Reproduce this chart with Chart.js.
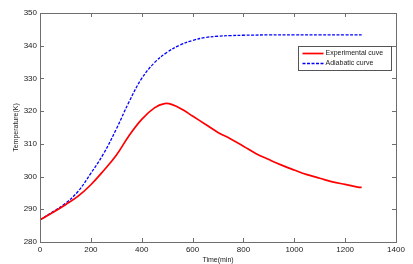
<!DOCTYPE html>
<html>
<head>
<meta charset="utf-8">
<script src="https://cdn.jsdelivr.net/npm/chart.js@4.4.1/dist/chart.umd.min.js"></script>
<style>
  html, body { margin: 0; padding: 0; background: #fff; }
  #wrap { width: 413px; height: 264px; position: relative; }
</style>
</head>
<body>
<div id="wrap"><canvas id="chart_temp"></canvas></div>
<script>
var expTime = [0, 50, 100, 150, 200, 250, 300, 350, 400, 450, 490, 520, 560, 600, 650, 700, 750, 800, 850, 900, 950, 1000, 1050, 1100, 1150, 1200, 1250, 1265];
var expTemp = [286.8, 289.0, 291.4, 294.0, 297.5, 301.8, 306.5, 312.5, 317.5, 321.0, 322.3, 322.0, 320.5, 318.5, 316.0, 313.5, 311.5, 309.3, 307.0, 305.2, 303.5, 302.0, 300.6, 299.5, 298.4, 297.6, 296.8, 296.7];
var adiTime = [0, 50, 100, 150, 200, 250, 300, 350, 400, 450, 500, 550, 600, 650, 700, 750, 800, 900, 1000, 1100, 1200, 1265];
var adiTemp = [286.8, 289.2, 291.8, 295.5, 301.0, 307.0, 314.5, 322.8, 330.0, 334.8, 338.0, 340.2, 341.6, 342.5, 342.9, 343.1, 343.2, 343.3, 343.3, 343.3, 343.3, 343.3];
var xTicks = [0, 200, 400, 600, 800, 1000, 1200, 1400];
var yTicks = [280, 290, 300, 310, 320, 330, 340, 350];

function toPoints(xs, ys) {
  return xs.map(function (x, i) { return { x: x, y: ys[i] }; });
}

var axisColor = '#6e6e6e';
var font = { family: "'Liberation Sans', Arial, sans-serif", size: 8 };
var noGrid = { display: true, drawOnChartArea: false, drawTicks: false, color: 'rgba(0,0,0,0)' };

var chart_temp = new Chart(document.getElementById('chart_temp'), {
    type: 'line',
    data: {
        datasets: [
            {
                label: 'Experimental cuve',
                data: toPoints(expTime, expTemp),
                borderColor: '#ff0000',
                borderWidth: 1.7,
                pointRadius: 0,
                tension: 0.4
            },
            {
                label: 'Adiabatic curve',
                data: toPoints(adiTime, adiTemp),
                borderColor: '#0000ff',
                borderWidth: 1.3,
                borderDash: [3, 1.5],
                pointRadius: 0,
                tension: 0.4
            }
        ]
    },
    options: {
        animation: false,
        responsive: true,
        maintainAspectRatio: false,
        layout: { padding: { top: 13, right: 17, left: 0, bottom: 0 } },
        plugins: {
            legend: { display: false },
            tooltip: { enabled: false }
        },
        scales: {
            x: {
                type: 'linear',
                min: 0,
                max: 1400,
                afterBuildTicks: function (scale) { scale.ticks = xTicks.map(function (v) { return { value: v }; }); },
                afterFit: function (scale) { scale.height = 22; },
                grid: noGrid,
                border: { display: false },
                ticks: { color: '#222', font: font, padding: 3, maxRotation: 0, callback: function (v) { return String(v); } },
                title: { display: true, text: 'Time(min)', color: '#222', font: { family: font.family, size: 7 }, padding: { top: 0, bottom: 0 } }
            },
            y: {
                type: 'linear',
                min: 280,
                max: 350,
                afterBuildTicks: function (scale) { scale.ticks = yTicks.map(function (v) { return { value: v }; }); },
                afterFit: function (scale) { scale.width = 40; },
                grid: noGrid,
                border: { display: false },
                ticks: { color: '#222', font: font, padding: 3, callback: function (v) { return String(v); } },
                title: { display: true, text: 'Temperature(K)', color: '#222', font: { family: font.family, size: 7 }, padding: { top: 12, bottom: 0 } }
            }
        }
    },
    plugins: [{
        id: 'matlabBox',
        beforeDraw: function (chart) {
            var ctx = chart.ctx;
            ctx.save();
            ctx.fillStyle = 'white';
            ctx.fillRect(0, 0, chart.width, chart.height);
            ctx.restore();
        },
        afterDatasetsDraw: function (chart) {
            var ctx = chart.ctx, a = chart.chartArea;
            var xs = chart.scales.x, ys = chart.scales.y;
            ctx.save();
            ctx.strokeStyle = axisColor;
            ctx.lineWidth = 1;
            ctx.strokeRect(Math.round(a.left) + 0.5, Math.round(a.top) + 0.5, Math.round(a.right - a.left), Math.round(a.bottom - a.top));
            ctx.beginPath();
            xTicks.forEach(function (v) {
                var px = Math.round(xs.getPixelForValue(v)) + 0.5;
                ctx.moveTo(px, a.bottom); ctx.lineTo(px, a.bottom - 4);
                ctx.moveTo(px, a.top); ctx.lineTo(px, a.top + 4);
            });
            yTicks.forEach(function (v) {
                var py = Math.round(ys.getPixelForValue(v)) + 0.5;
                ctx.moveTo(a.left, py); ctx.lineTo(a.left + 4, py);
                ctx.moveTo(a.right, py); ctx.lineTo(a.right - 4, py);
            });
            ctx.stroke();

            // legend box, MATLAB style
            var bx = 298.5, by = 46.5, bw = 93, bh = 24;
            ctx.fillStyle = '#fff';
            ctx.fillRect(bx, by, bw, bh);
            ctx.strokeStyle = '#555';
            ctx.strokeRect(bx, by, bw, bh);
            ctx.font = "7px 'Liberation Sans', Arial, sans-serif";
            ctx.textBaseline = 'middle';
            chart.data.datasets.forEach(function (ds, i) {
                var ly = by + 7 + i * 10;
                ctx.beginPath();
                ctx.strokeStyle = ds.borderColor;
                ctx.lineWidth = ds.borderWidth;
                ctx.setLineDash(ds.borderDash || []);
                ctx.moveTo(bx + 4, ly); ctx.lineTo(bx + 25, ly);
                ctx.stroke();
                ctx.setLineDash([]);
                ctx.fillStyle = '#222';
                ctx.fillText(ds.label, bx + 27, ly);
            });
            ctx.restore();
        }
    }]
});
</script>
</body>
</html>
